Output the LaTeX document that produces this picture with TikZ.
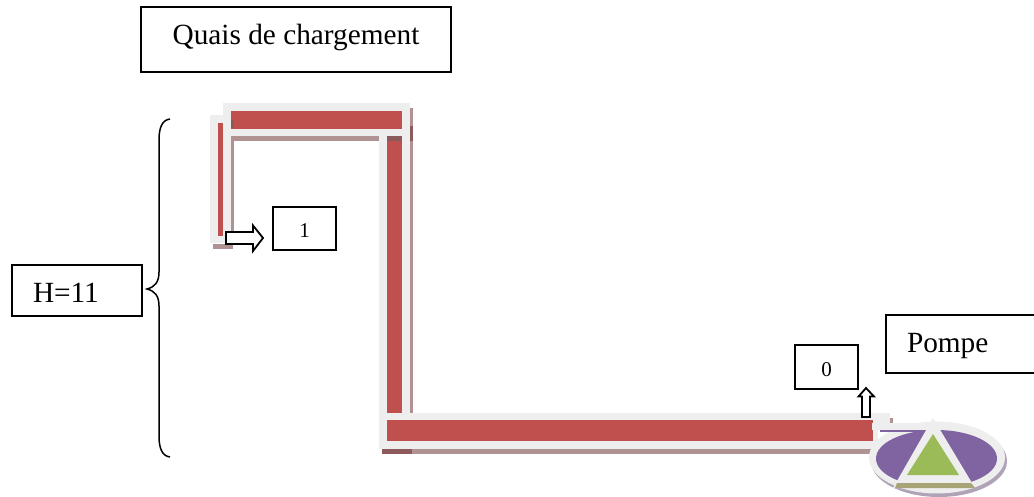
\documentclass[tikz,border=0pt]{standalone}
\usepackage{fontspec}
\setmainfont{Liberation Serif}
\definecolor{pipered}{HTML}{C0504D}
\definecolor{halo}{HTML}{EEEEEE}
\definecolor{pipeshade}{HTML}{B09292}
\definecolor{shadedark}{HTML}{8C5A5A}
\definecolor{pumpshade}{HTML}{AFA3B8}
\definecolor{pumpviolet}{HTML}{8064A2}
\definecolor{pumpgreen}{HTML}{9BBB59}
\tikzset{
  labelbox/.style={draw, line width=1.5pt, anchor=north west, inner sep=0pt, outer sep=0pt, font=\fontsize{29.3}{34}\selectfont},
  smallbox/.style={labelbox, font=\fontsize{21}{24}\selectfont, align=center},
  blockarrow/.style={draw, fill=white, line width=1.8pt, line join=miter}
}
\begin{document}
\begin{tikzpicture}[x=1pt, y=-1pt]
      \useasboundingbox (0, 0) rectangle (1034, 497);

      % shadows of the pipes
      \fill[pipeshade] (213, 244) rectangle (233, 249);
      \fill[pipeshade] (231, 120) rectangle (233.5, 244);
      \fill[pipeshade] (231, 136) rectangle (412.5, 141.5);
      \fill[pipeshade] (410, 108) rectangle (412.5, 141);
      \fill[pipeshade] (410, 141) rectangle (412.5, 413);
      \fill[pipeshade] (382, 449) rectangle (890, 454);
      \fill[shadedark] (382, 449) rectangle (412, 454);
      \fill[pipeshade] (888, 418) rectangle (893, 423);

      % pipes
      \fill[halo] (210, 115) rectangle (231, 243);
      \fill[halo] (223, 103) rectangle (410, 136);
      \fill[halo] (379, 136) rectangle (410, 413);
      \fill[halo] (379, 413) rectangle (890, 423);
      \fill[halo] (379, 423) rectangle (878, 449);
      \fill[pipered] (218, 123) rectangle (223, 236);
      \fill[pipered] (231, 111) rectangle (402, 129);
      \fill[pipered] (387, 136) rectangle (402, 413);
      \fill[pipered] (387, 420) rectangle (873, 441);
      \fill[shadedark] (231, 120) rectangle (233.5, 128);
      \fill[shadedark] (387, 136) rectangle (402, 141.5);
      \fill[shadedark] (410, 126) rectangle (412.5, 141.5);

      % pump
      \fill[pumpshade] (939, 461) ellipse [x radius=68, y radius=36];
      \fill[halo] (937, 457.5) ellipse [x radius=68, y radius=36];
      \fill[pumpviolet] (936.5, 458.5) ellipse [x radius=60.5, y radius=28.5];
      \fill[halo] (872, 423) rectangle (925, 430);
      \fill[pumpviolet] (880, 430) rectangle (926, 432);
      \fill[halo] (933, 418) -- (975, 488) -- (893, 488) -- cycle;
      \fill[pumpgreen] (933, 434) -- (959, 475) -- (907, 475) -- cycle;
      \fill[black!55!pumpviolet] (933, 485) ellipse [x radius=22, y radius=1.5];
      \fill[pumpgreen!45!pipeshade] (897, 483) -- (971, 483) -- (975, 488) -- (895, 488) -- cycle;

      % boxes
      \node[labelbox, minimum width=310pt, text height=38pt, text depth=27pt] (quais) at (141, 7) {Quais de chargement};
      \node[labelbox, text width=130pt, align=left, text height=37pt, text depth=14pt] (hauteur) at (12, 265) {\hspace*{21pt}H=11};
      \node[labelbox, text width=152pt, align=left, text height=37.5pt, text depth=20.5pt] (pompe) at (886, 315) {\hspace*{21pt}Pompe};
      \node[smallbox, minimum width=63pt, text height=31pt, text depth=12pt] (point1) at (273, 207) {1};
      \node[smallbox, minimum width=63pt, text height=31pt, text depth=13pt] (point0) at (795, 345) {0};

      % arrows
      \draw[blockarrow] (226, 232) -- (253, 232) -- (253, 225.5) -- (263, 238) -- (253, 251) -- (253, 244) -- (226, 244) -- cycle;
      \draw[blockarrow] (862, 417) -- (862, 396.5) -- (858.5, 396.5) -- (866, 388) -- (874, 396.5) -- (870, 396.5) -- (870, 417) -- cycle;

      % brace
      \draw[line width=1.5pt] (170, 119) .. controls (162, 120) and (159, 128) .. (159, 140)
        -- (159, 272) .. controls (159, 282) and (155, 287) .. (147, 289)
        .. controls (155, 291) and (159, 296) .. (159, 306)
        -- (159, 436) .. controls (159, 448) and (162, 456) .. (170, 457);
\end{tikzpicture}
\end{document}
